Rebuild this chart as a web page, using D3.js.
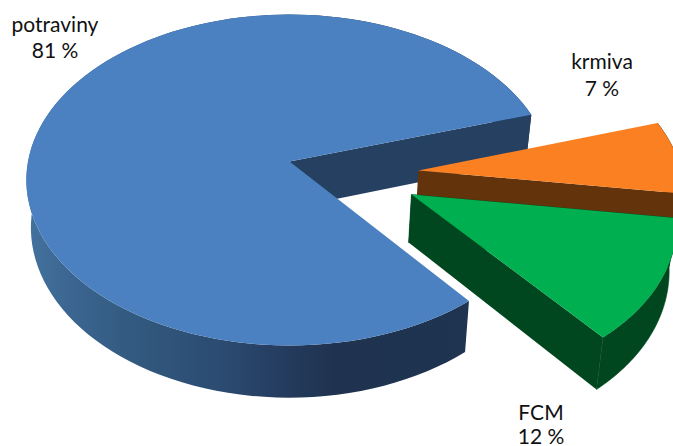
<!DOCTYPE html>
<html><head><meta charset="utf-8">
<style>html,body{margin:0;padding:0;background:#fff;overflow:hidden}svg{display:block}text{font-family:Lato,sans-serif;font-size:21px;font-weight:400;fill:#111;text-anchor:middle}</style>
<script src="https://cdnjs.cloudflare.com/ajax/libs/d3/7.8.5/d3.min.js"></script>
</head><body><svg id="c" width="673" height="446"></svg>
<script>
const categories = ["potraviny", "krmiva", "FCM"];
const values = [81, 7, 12];
const topColors = ["#4b81c1", "#fa8022", "#00b050"];
const faceColors = ["#254061", "#63340b", "#00471f"];
const wallColors = ["url(#blueWall)", "#63340b", "#00471f"];

// view geometry (perspective disc)
const K = 0.1118;
const topPlane = {ax: 289.5, ay: 161.5, A: 261.5, B: 163.4};
const botPlane = {ax: 289, ay: 208.5, A: 256.5, B: 168};
const explode = [[0, 0], [0.49, -0.054], [0.456, -0.1975]];
const radii = [1, 1, 0.98];
const labelPos = [[55, 32, 58], [602, 69, 96], [541, 420, 444]];

function project(pl, a, r, off) {
  const X = r * Math.sin(a) + off[0], Y = r * Math.cos(a) + off[1], w = 1 + K * Y;
  return [pl.ax + pl.A * X / w, pl.ay - pl.B * Y / w];
}
const rad = d => d * Math.PI / 180;
const pie = d3.pie().sort(null).startAngle(rad(141.2)).endAngle(rad(501.2));
const arcs = pie(values);
const svg = d3.select("#c");
const line = d3.line();

const g = svg.append("defs").append("linearGradient").attr("id", "blueWall")
  .attr("gradientUnits", "userSpaceOnUse").attr("x1", 25).attr("x2", 470).attr("y1", 0).attr("y2", 0);
[[0, "#44739f"], [0.1, "#3b6691"], [0.25, "#32597f"], [0.45, "#2b4a70"], [0.6, "#233a5c"], [0.7, "#1f334f"], [1, "#1e3450"]]
  .forEach(s => g.append("stop").attr("offset", s[0]).attr("stop-color", s[1]));

const angles = (a, b) => d3.range(0, 121).map(i => a + (b - a) * i / 120);

arcs.forEach((d, i) => {
  const off = explode[i], r = radii[i];
  const start = d.startAngle, end = d.endAngle;
  const grp = svg.append("g").attr("class", "slice").datum(categories[i]);
  const as = angles(start, end);
  const wall = as.map(a => project(topPlane, a, r, off))
    .concat(as.slice().reverse().map(a => project(botPlane, a, r, off)));
  grp.append("path").attr("d", line(wall) + "Z").attr("fill", wallColors[i])
    .attr("stroke", i === 0 ? "none" : wallColors[i]).attr("stroke-width", 0.6);
  const face = [project(topPlane, 0, 0, off), project(topPlane, end, r, off),
                project(botPlane, end, r, off), project(botPlane, 0, 0, off)];
  grp.append("path").attr("d", line(face) + "Z").attr("fill", faceColors[i]);
  if (i === 2) {
    const f2 = [project(topPlane, 0, 0, off), project(topPlane, start, r, off),
                project(botPlane, start, r, off), project(botPlane, 0, 0, off)];
    grp.append("path").attr("d", line(f2) + "Z").attr("fill", faceColors[i])
      .attr("stroke", faceColors[i]).attr("stroke-width", 0.6);
  }
  const topPts = [project(topPlane, 0, 0, off)].concat(as.map(a => project(topPlane, a, r, off)));
  grp.append("path").attr("d", line(topPts) + "Z").attr("fill", topColors[i]);
});

categories.forEach((c, i) => {
  svg.append("text").attr("x", labelPos[i][0]).attr("y", labelPos[i][1]).text(c);
  svg.append("text").attr("x", labelPos[i][0]).attr("y", labelPos[i][2]).text(values[i] + " %");
});
</script></body></html>
